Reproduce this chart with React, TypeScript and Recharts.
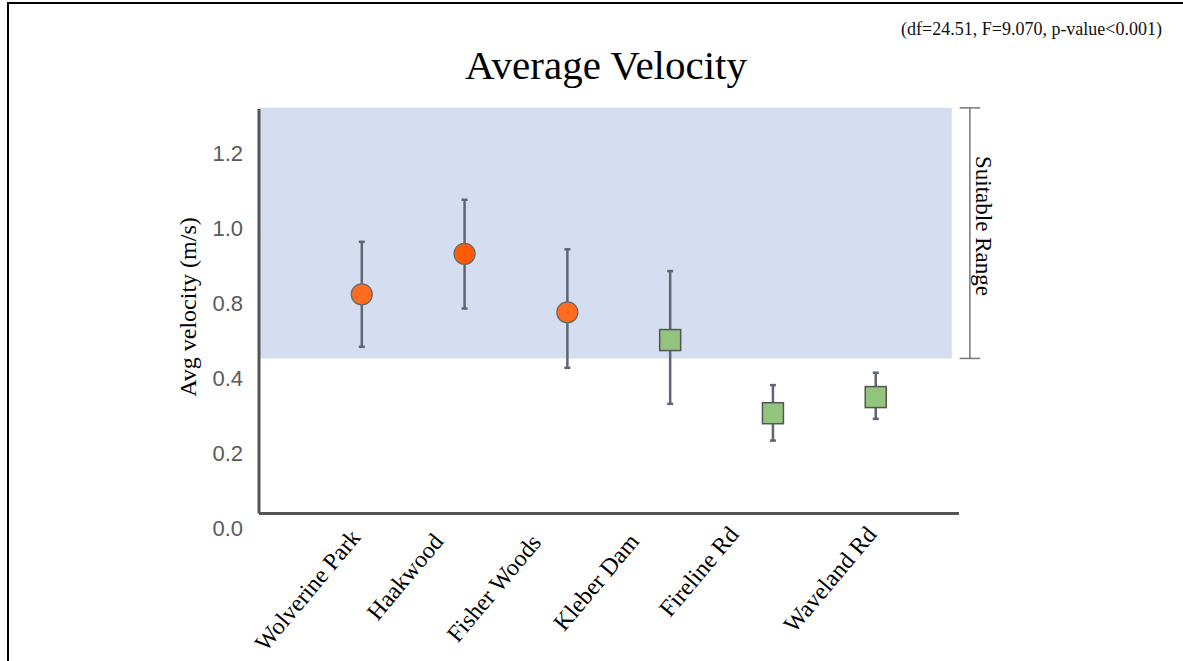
import React from 'react';
import {
  ScatterChart,
  Scatter,
  XAxis,
  YAxis,
  ErrorBar,
  ReferenceArea,
  ReferenceLine,
} from 'recharts';

// ---- data ----
const sites = ['Wolverine Park', 'Haakwood', 'Fisher Woods', 'Kleber Dam', 'Fireline Rd', 'Waveland Rd'];
const meanVelocity = [0.623, 0.731, 0.575, 0.501, 0.306, 0.349];
const upperBound = [0.763, 0.875, 0.743, 0.685, 0.381, 0.414];
const lowerBound = [0.483, 0.585, 0.427, 0.331, 0.233, 0.291];
const siteGroup = ['circle', 'circle', 'circle', 'square', 'square', 'square'];
const yTicks = [0, 0.2, 0.4, 0.6, 0.8, 1.0];
const yTickLabels = ['0.0', '0.2', '0.4', '0.8', '1.0', '1.2'];
const suitableLow = 0.452;
const suitableHigh = 1.12;
const chartTitle = 'Average Velocity';
const statsNote = '(df=24.51, F=9.070, p-value<0.001)';
const yTitle = 'Avg velocity (m/s)';
const rangeLabel = 'Suitable Range';

// ---- layout / style constants ----
const W = 1183;
const H = 661;
const X_MAX = 6.81;
const Y_MAX = 1.117;
const AXIS_Y = 0.0387;
const BRACKET_X = 6.916;
const tickLabelShift = [
  [0, 2],
  [-20, 6],
  [-25, 7],
  [-30, 6],
  [-33, -1],
  [2, -1],
];
const circleFill = ['#FF6B1F', '#FF5A08', '#FF6B1F'];
const SERIF = '"Liberation Serif", "Times New Roman", serif';
const SANS = '"Liberation Sans", Arial, sans-serif';

const rows = sites.map((site, i) => ({
  x: i + 1,
  idx: i,
  site,
  v: meanVelocity[i],
  err: [meanVelocity[i] - lowerBound[i], upperBound[i] - meanVelocity[i]],
}));
const circleRows = rows.filter((r) => siteGroup[r.idx] === 'circle');
const squareRows = rows.filter((r) => siteGroup[r.idx] === 'square');

const CircleShape = (props: any) => {
  const { cx, cy, payload } = props;
  if (cx == null || cy == null) return null;
  return (
    <circle
      cx={cx}
      cy={cy}
      r={10.5}
      fill={circleFill[payload.idx] || '#FF6B1F'}
      stroke="#6a6a6a"
      strokeWidth={1.3}
    />
  );
};

const SquareShape = (props: any) => {
  const { cx, cy } = props;
  if (cx == null || cy == null) return null;
  return (
    <rect x={cx - 10.5} y={cy - 10.5} width={21} height={21} fill="#93C47D" stroke="#555" strokeWidth={1.5} />
  );
};

const XTick = (props: any) => {
  const { x, y, payload } = props;
  const i = Math.round(payload.value) - 1;
  const label = sites[i];
  if (!label) return null;
  const [dx, dy] = tickLabelShift[i] || [0, 0];
  const ax = x + dx;
  const ay = y + dy;
  return (
    <text
      x={ax}
      y={ay}
      textAnchor="end"
      transform={`rotate(-50, ${ax}, ${ay})`}
      fontFamily={SERIF}
      fontSize={24}
      fill="#000"
    >
      {label}
    </text>
  );
};

export default function App() {
  return (
    <div style={{ position: 'absolute', left: 0, top: 0, width: W, height: H, background: '#fff', overflow: 'hidden' }}>
      <div
        style={{
          position: 'absolute',
          left: 7,
          top: 2,
          width: W - 7,
          height: H - 2,
          borderTop: '2.5px solid #000',
          borderLeft: '2px solid #000',
          boxSizing: 'border-box',
        }}
      />
      <ScatterChart
        width={W}
        height={H}
        margin={{ top: 109, right: W - 959, bottom: H - 528 - 30, left: 259 - 60 }}
        style={{ position: 'absolute', left: 0, top: 0 }}
      >
        <ReferenceArea
          x1={0}
          x2={6.74}
          y1={suitableLow}
          y2={suitableHigh}
          fill="#D5DEF0"
          fillOpacity={1}
          stroke="none"
          ifOverflow="visible"
        />
        <XAxis
          type="number"
          dataKey="x"
          domain={[0, X_MAX]}
          ticks={[1, 2, 3, 4, 5, 6]}
          interval={0}
          allowDataOverflow
          axisLine={false}
          tickLine={false}
          height={30}
          tick={<XTick />}
        />
        <YAxis
          type="number"
          dataKey="v"
          domain={[0, Y_MAX]}
          ticks={yTicks}
          interval={0}
          allowDataOverflow
          axisLine={false}
          tickLine={false}
          tickSize={6}
          tickMargin={10}
          width={60}
          tickFormatter={(v: number) => {
            const k = yTicks.findIndex((t) => Math.abs(t - v) < 1e-6);
            return k >= 0 ? yTickLabels[k] : '';
          }}
          tick={{ fill: '#5a5a5a', fontSize: 22, fontFamily: SANS }}
        />
        <ReferenceLine
          segment={[
            { x: 0, y: AXIS_Y },
            { x: X_MAX, y: AXIS_Y },
          ]}
          stroke="#555"
          strokeWidth={3}
          ifOverflow="visible"
        />
        <ReferenceLine
          segment={[
            { x: 0, y: AXIS_Y },
            { x: 0, y: Y_MAX },
          ]}
          stroke="#555"
          strokeWidth={3}
          ifOverflow="visible"
        />
        <ReferenceLine
          segment={[
            { x: BRACKET_X, y: suitableLow },
            { x: BRACKET_X, y: suitableHigh },
          ]}
          stroke="#777"
          strokeWidth={1.5}
          ifOverflow="visible"
        />
        <ReferenceLine
          segment={[
            { x: BRACKET_X - 0.1, y: suitableLow },
            { x: BRACKET_X + 0.1, y: suitableLow },
          ]}
          stroke="#777"
          strokeWidth={1.5}
          ifOverflow="visible"
        />
        <ReferenceLine
          segment={[
            { x: BRACKET_X - 0.1, y: suitableHigh },
            { x: BRACKET_X + 0.1, y: suitableHigh },
          ]}
          stroke="#777"
          strokeWidth={1.5}
          ifOverflow="visible"
        />
        <Scatter data={circleRows} dataKey="v" shape={<CircleShape />} isAnimationActive={false}>
          <ErrorBar dataKey="err" direction="y" width={3} stroke="#5E6673" strokeWidth={2.5} />
        </Scatter>
        <Scatter data={squareRows} dataKey="v" shape={<SquareShape />} isAnimationActive={false}>
          <ErrorBar dataKey="err" direction="y" width={3} stroke="#5E6673" strokeWidth={2.5} />
        </Scatter>
      </ScatterChart>
      <svg
        width={W}
        height={H}
        style={{ position: 'absolute', left: 0, top: 0, pointerEvents: 'none' }}
      >
        <text x={606} y={79} textAnchor="middle" fontFamily={SERIF} fontSize={41} fill="#000">
          {chartTitle}
        </text>
        <text x={1162} y={35} textAnchor="end" fontFamily={SERIF} fontSize={18} fill="#111">
          {statsNote}
        </text>
        <text
          x={188}
          y={307}
          textAnchor="middle"
          dominantBaseline="central"
          transform="rotate(-90, 188, 307)"
          fontFamily={SERIF}
          fontSize={24}
          fill="#000"
        >
          {yTitle}
        </text>
        <text
          x={983}
          y={226}
          textAnchor="middle"
          dominantBaseline="central"
          transform="rotate(90, 983, 226)"
          fontFamily={SERIF}
          fontSize={23}
          fill="#000"
        >
          {rangeLabel}
        </text>
      </svg>
    </div>
  );
}
